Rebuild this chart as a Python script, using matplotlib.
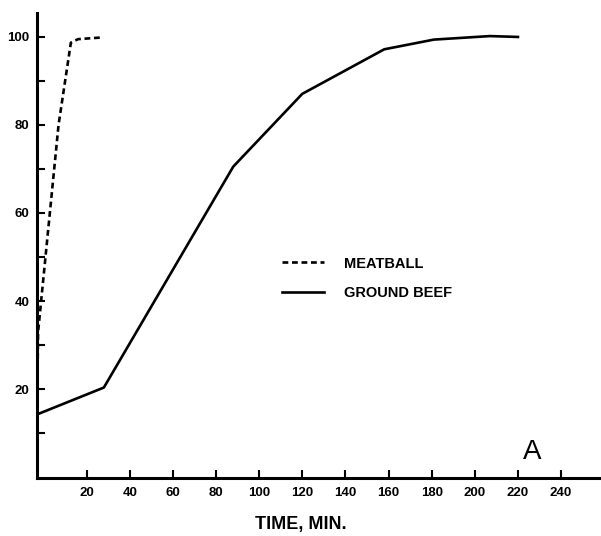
import matplotlib
matplotlib.use("Agg")
import matplotlib.pyplot as plt

plt.rcParams["font.family"] = ["Liberation Sans", "DejaVu Sans"]

# cooking time (min) vs. percent of final value
meatball_time = [-3, -2.5, 7, 12.7, 16, 27.5]
meatball_pct = [14, 33, 80, 98.6, 99.4, 99.8]

beef_time = [-3, 28, 88, 120, 158, 181, 207, 220]
beef_pct = [14.3, 20.4, 70.5, 87.0, 97.1, 99.3, 100.1, 99.9]

x_ticks = list(range(20, 241, 20))
y_ticks = list(range(20, 101, 20))
y_minor = list(range(10, 100, 20))

fig = plt.figure(figsize=(6.01, 5.36), dpi=100)
ax = fig.add_axes([37 / 601, 1 - 477.5 / 536, 1 - 37 / 601, (477.5 - 12.7) / 536])

ax.plot(meatball_time, meatball_pct, color="black", lw=1.9,
        linestyle=(0, (2.2, 1.4)), label="MEATBALL")
ax.plot(beef_time, beef_pct, color="black", lw=1.9, label="GROUND BEEF")

ax.set_xlim(-3, 258.5)
ax.set_ylim(0, 105.4)

ax.set_xticks(x_ticks)
ax.set_yticks(y_ticks)
ax.set_yticks(y_minor, minor=True)
ax.tick_params(which="both", direction="in", length=5.8, width=1.5)
ax.tick_params(axis="x", pad=7)
ax.tick_params(axis="y", pad=5.5)
for lab in ax.get_xticklabels() + ax.get_yticklabels():
    lab.set_fontsize(9.5)
    lab.set_fontweight("bold")

for side in ("top", "right"):
    ax.spines[side].set_visible(False)
for side in ("left", "bottom"):
    ax.spines[side].set_linewidth(2.2)

fig.text(301 / 601, 1 - 525 / 536, "TIME, MIN.", ha="center", va="center",
         fontsize=13, fontweight="bold")

ax.text(226.5, 5.7, "A", ha="center", va="center", fontsize=20)

ax.legend(loc="center left", bbox_to_anchor=(281.7 / 601, 1 - 278.3 / 536),
          bbox_transform=fig.transFigure, frameon=False, borderpad=0,
          borderaxespad=0, handlelength=2.9, handletextpad=1.37,
          labelspacing=1.06, prop={"size": 10.5, "weight": "bold"})

fig.savefig("out.png", dpi=100)
